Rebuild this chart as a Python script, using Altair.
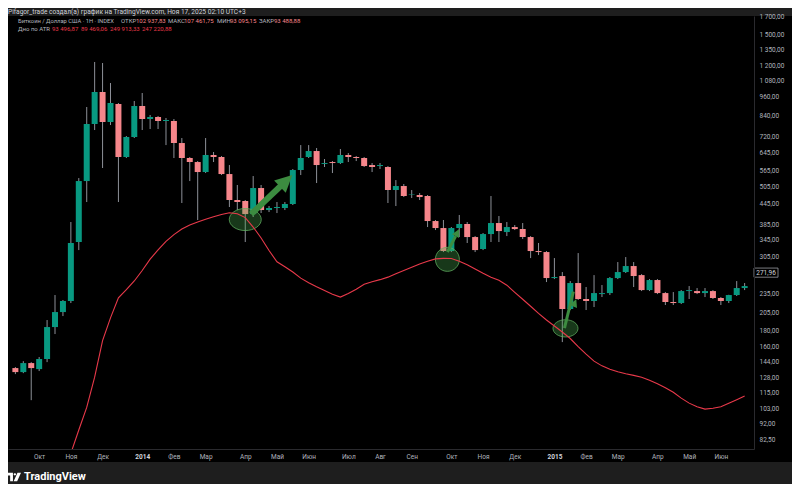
import altair as alt
import pandas as pd

# ---------------- data ----------------
FIRST_WEEK = "2013-09-16"   # weekly candles, Monday opens

opens = [137.2, 133.3, 142.2, 136.2, 146.4, 184.1, 205.0, 221.9, 338.7, 524.4,
         789.3, 992.9, 800.7, 911.1, 623.0, 719.0, 898.0, 818.1, 829.9, 806.5,
         806.5, 688.7, 618.5, 601.0, 559.4, 632.0, 623.0, 551.4, 457.7, 454.5,
         413.9, 498.8, 426.0, 432.2, 432.2, 444.8, 567.5, 623.0, 650.3, 592.5,
         601.0, 596.7, 632.0, 623.0, 618.5, 588.2, 584.0, 579.9, 491.7, 506.0,
         474.4, 474.4, 471.0, 393.7, 374.4, 317.5, 374.4, 385.4, 351.0, 322.1,
         358.6, 388.1, 363.8, 377.1, 371.7, 351.0, 317.5, 315.2, 261.6, 265.4,
         209.5, 252.4, 225.1, 221.9, 233.2, 234.9, 261.6, 273.1, 285.1, 267.2,
         240.0, 257.9, 234.9, 220.3, 218.7, 238.3, 238.3, 234.9, 238.3, 226.7,
         221.9, 231.6, 243.5]
highs = [138.2, 144.2, 143.2, 148.5, 193.6, 231.6, 223.5, 390.9, 535.8, 891.6,
         1231.2, 1222.4, 1059.1, 917.6, 724.2, 930.8, 985.8, 842.0, 835.9, 824.0,
         818.1, 713.9, 623.0, 605.3, 713.9, 645.7, 627.5, 588.2, 509.7, 457.7,
         543.6, 509.7, 438.4, 451.2, 451.2, 571.6, 678.7, 678.7, 664.5, 614.1,
         605.3, 659.8, 641.1, 627.5, 623.0, 596.7, 596.7, 584.0, 528.1, 513.4,
         491.7, 481.2, 474.4, 396.6, 396.6, 377.1, 411.1, 390.9, 353.5, 361.2,
         471.0, 408.1, 390.9, 382.5, 388.1, 353.5, 336.3, 317.5, 301.9, 273.1,
         256.0, 312.9, 245.3, 267.2, 248.8, 263.5, 293.4, 304.1, 293.4, 269.1,
         259.7, 259.7, 236.6, 236.6, 240.0, 247.0, 243.5, 243.5, 240.0, 228.3,
         232.0, 256.0, 252.4]
lows = [131.4, 132.3, 109.0, 134.3, 143.2, 175.1, 199.2, 218.7, 319.7, 451.2,
        756.0, 575.8, 783.6, 451.2, 618.5, 713.9, 756.0, 761.5, 761.5, 678.7,
        618.5, 448.0, 524.4, 396.6, 555.4, 601.0, 547.5, 435.3, 426.0, 338.7,
        405.2, 416.9, 419.9, 416.9, 426.0, 441.6, 547.5, 618.5, 517.0, 579.9,
        555.4, 592.5, 601.0, 605.3, 579.9, 559.4, 571.6, 448.0, 438.4, 467.6,
        464.3, 457.7, 377.1, 369.1, 315.2, 315.2, 351.0, 336.3, 315.2, 319.7,
        338.7, 338.7, 353.5, 369.1, 346.0, 301.9, 308.5, 254.2, 259.7, 165.3,
        208.0, 223.5, 208.0, 212.5, 228.3, 231.6, 259.7, 271.2, 245.3, 238.3,
        238.3, 233.2, 215.6, 215.6, 217.2, 225.1, 233.2, 228.3, 225.1, 215.6,
        218.7, 230.0, 240.0]
closes = [133.3, 142.2, 137.2, 146.4, 184.1, 205.0, 221.9, 336.3, 524.4, 789.3,
          992.9, 800.7, 917.6, 623.0, 719.0, 898.0, 818.1, 829.9, 806.5, 812.3,
          688.7, 618.5, 601.0, 559.4, 632.0, 623.0, 551.4, 457.7, 451.2, 413.9,
          498.8, 426.0, 432.2, 435.3, 444.8, 567.5, 618.5, 650.3, 588.2, 596.7,
          596.7, 632.0, 623.0, 618.5, 584.0, 579.9, 588.2, 491.7, 506.0, 471.0,
          476.1, 467.6, 393.7, 374.4, 317.5, 374.4, 385.4, 351.0, 319.7, 358.6,
          388.1, 366.4, 377.1, 371.7, 351.0, 317.5, 315.2, 261.6, 263.5, 209.5,
          252.4, 225.1, 221.9, 234.9, 234.9, 261.6, 273.1, 285.1, 265.4, 240.0,
          257.9, 234.9, 220.3, 218.7, 238.3, 240.0, 234.9, 238.3, 226.7, 221.9,
          231.6, 243.5, 247.0]

# "Дно по ATR" line, starting at candle #7
ATR_FIRST = 7
atr = [74.5, 88.0, 103.5, 128.5, 167.0, 196.7, 227.0, 240.6, 256.2, 276.1,
       299.5, 320.2, 340.4, 357.3, 371.7, 382.6, 390.9, 398.8, 406.1, 412.4,
       417.8, 414.8, 403.5, 377.1, 348.5, 318.6, 294.0, 283.7, 273.1, 261.4,
       252.8, 245.6, 239.2, 232.9, 228.3, 234.3, 241.5, 250.3, 254.9, 258.6,
       263.3, 269.8, 276.2, 282.7, 289.5, 294.9, 300.2, 301.3, 300.8, 295.1,
       287.9, 279.3, 270.8, 263.1, 257.3, 248.6, 236.1, 224.7, 213.7, 203.0,
       193.7, 185.5, 177.7, 169.6, 160.1, 151.7, 144.2, 139.4, 136.1, 133.6,
       131.7, 130.2, 128.5, 125.8, 122.7, 119.2, 115.3, 110.6, 106.7, 104.0,
       102.2, 102.9, 104.0, 106.7, 109.4, 112.3]

# price-axis labels
price_ticks = [82.5, 92, 103, 115, 128, 144, 160, 180, 205, 235, 305, 345, 385,
               445, 505, 565, 645, 720, 840, 960, 1080, 1200, 1350, 1500, 1700]
last_price = 271.96

# time-axis labels: candle numbers where a month starts
month_ticks = [3, 7, 11, 16, 20, 24, 29, 33, 37, 42, 46, 50, 55, 59, 63, 68, 72,
               76, 81, 85, 89]

# annotations (candle position, price)
ellipse_pos = [29.0, 54.5, 69.4]
ellipse_price = [398.0, 299.1, 182.4]
arrow_tail_pos = [29.74, 54.5, 69.27]
arrow_tail_price = [413.9, 315.2, 182.8]
arrow_base_pos = [33.67, 55.55, 70.39]
arrow_base_price = [511.5, 353.3, 237.3]
arrow_tip_pos = [34.94, 56.0, 70.76]
arrow_tip_price = [547.5, 371.7, 225.1]

# ---------------- helpers ----------------
GREEN = "#089981"
RED = "#f6868b"
WICK = "#8d9098"
LINE = "#e8394a"
ARROW = "#3c8c40"
AXIS_TXT = "#b2b5be"
FONT = "Roboto"

t0 = pd.Timestamp(FIRST_WEEK)


def when(pos):
    return t0 + pd.Timedelta(days=7 * pos)


def iso(pos):
    return when(pos).strftime("%Y-%m-%dT%H:%M:%SZ")


def ms(pos):
    return int(when(pos).value // 10**6)


n = len(opens)
candles = pd.DataFrame({
    "date": [iso(i) for i in range(n)],
    "open": opens, "high": highs, "low": lows, "close": closes,
})
atr_df = pd.DataFrame({
    "date": [iso(ATR_FIRST + i) for i in range(len(atr))],
    "price": atr,
})

xscale = alt.Scale(type="utc", domain=[ms(-0.3), ms(92.55)], nice=False)
yscale = alt.Scale(type="log", domain=[76.80, 1712.2], nice=False, zero=False)

month_expr = ("utcmonth(datum.value) == 0 ? utcFormat(datum.value, '%Y') : "
              "['Янв','Фев','Мар','Апр','Май','Июн','Июл','Авг','Сен','Окт','Ноя','Дек']"
              "[utcmonth(datum.value)]")
xaxis = alt.Axis(values=[ms(i) for i in month_ticks], labelExpr=month_expr,
                 title=None, grid=False, ticks=False, domain=True, zindex=2,
                 domainColor="#2a2a2e", labelFont=FONT, labelFontSize=6.5,
                 labelPadding=4, labelFlush=False, labelOverlap=False,
                 labelColor={"condition": {"test": "utcmonth(datum.value) == 0",
                                           "value": "#d1d4dc"}, "value": AXIS_TXT},
                 labelFontWeight={"condition": {"test": "utcmonth(datum.value) == 0",
                                                "value": "bold"}, "value": "normal"})
yaxis = alt.Axis(orient="right", values=price_ticks,
                 labelExpr="replace(replace(format(datum.value, ',.2f'), ',', ' '), '.', ',')",
                 title=None, grid=False, ticks=False, domain=True, zindex=2,
                 domainColor="#2a2a2e", labelFont=FONT, labelFontSize=6.5,
                 labelColor=AXIS_TXT, labelPadding=5, labelOverlap=False,
                 labelFlush=False)

X = alt.X("date:T", scale=xscale, axis=xaxis)


def Y(field):
    return alt.Y(f"{field}:Q", scale=yscale, axis=yaxis)


one = pd.DataFrame({"k": [0]})


def label(text, x, y, color, size=6.5, weight="normal", align="left"):
    return alt.Chart(pd.DataFrame({"t": [text]})).mark_text(
        align=align, baseline="middle", fontSize=size, fontWeight=weight,
        color=color, font=FONT
    ).encode(x=alt.value(x), y=alt.value(y), text="t:N")


# ---------------- layers ----------------
black_bg = alt.Chart(one).mark_rect(color="#000000").encode(
    x=alt.value(-20), x2=alt.value(800), y=alt.value(0), y2=alt.value(446))

wicks = alt.Chart(candles).mark_rule(color=WICK, strokeWidth=1).encode(
    x=X, y=Y("low"), y2="high:Q")

bodies = alt.Chart(candles).mark_bar(size=6).encode(
    x=X, y=Y("open"), y2="close:Q",
    color=alt.condition("datum.close >= datum.open", alt.value(GREEN), alt.value(RED)))

atr_line = alt.Chart(atr_df).mark_line(color=LINE, strokeWidth=1.1, clip=True).encode(
    x=X, y=Y("price"))

ELLIPSE = "M-1,0A1,0.69,0,1,1,1,0A1,0.69,0,1,1,-1,0Z"
CIRCLE = "M-1,0A1,1,0,1,1,1,0A1,1,0,1,1,-1,0Z"
ell_style = dict(filled=True, fill="#4caf50", fillOpacity=0.32, stroke="#62b262",
                 strokeOpacity=0.75, strokeWidth=1)
ell_widths = [32, 24, 25]
ell_shapes = [ELLIPSE, CIRCLE, ELLIPSE]
ellipses = []
for k in range(3):
    d = pd.DataFrame({"date": [iso(ellipse_pos[k])], "price": [ellipse_price[k]]})
    ellipses.append(alt.Chart(d).mark_point(shape=ell_shapes[k], size=ell_widths[k] ** 2,
                                            **ell_style).encode(x=X, y=Y("price")))

ARROWHEAD = "M0,0L-1,2L1,2Z"
shaft_w = [6, 3, 3]
head_size = [289, 64, 64]
head_angle = [47, 28, 22]
arrows = []
for k in range(3):
    d = pd.DataFrame({"date": [iso(arrow_tail_pos[k])], "price": [arrow_tail_price[k]],
                      "date2": [iso(arrow_base_pos[k])], "price2": [arrow_base_price[k]]})
    arrows.append(alt.Chart(d).mark_rule(color=ARROW, strokeWidth=shaft_w[k]).encode(
        x=X, y=Y("price"), x2="date2:T", y2="price2:Q"))
    h = pd.DataFrame({"date": [iso(arrow_tip_pos[k])], "price": [arrow_tip_price[k]]})
    arrows.append(alt.Chart(h).mark_point(shape=ARROWHEAD, size=head_size[k], filled=True,
                                          color=ARROW, opacity=1, angle=head_angle[k]).encode(
        x=X, y=Y("price")))

lp = pd.DataFrame({"price": [last_price], "t": ["271,96"]})
last_box = alt.Chart(lp).mark_point(shape="M-1,-0.38L1,-0.38L1,0.38L-1,0.38Z", size=576,
                                    filled=True, fill="#000000", stroke="#9a9ca3",
                                    strokeWidth=0.8, opacity=1).encode(
    x=alt.value(758), y=alt.Y("price:Q", scale=yscale, axis=yaxis))
last_txt = alt.Chart(lp).mark_text(fontSize=6.5, font=FONT, color="#d1d4dc",
                                   align="center", baseline="middle").encode(
    x=alt.value(758), y=alt.Y("price:Q", scale=yscale, axis=yaxis), text="t:N")

texts = [
    label("Pifagor_trade создал(а) график на TradingView.com, Ноя 17, 2025 02:10 UTC+3",
          0, -4, "#d1d4dc", size=6.6),
    label("Биткоин / Доллар США · 1Н · INDEX", 10, 5, AXIS_TXT, size=5.8),
    label("ОТКР", 113, 5, AXIS_TXT, size=6),
    label("102 937,83", 128, 5, RED, size=6),
    label("МАКС", 160, 5, AXIS_TXT, size=6),
    label("107 461,75", 176, 5, RED, size=6),
    label("МИН", 209, 5, AXIS_TXT, size=6),
    label("93 095,15", 222, 5, RED, size=6),
    label("ЗАКР", 251, 5, AXIS_TXT, size=6),
    label("93 488,88", 266, 5, RED, size=6),
    label("Дно по ATR", 10, 13, AXIS_TXT, size=6),
    label("93 496,87", 44, 13, LINE, size=6),
    label("89 469,06", 73, 13, LINE, size=6),
    label("249 913,33", 102, 13, LINE, size=6),
    label("247 220,88", 134, 13, LINE, size=6),
    label("TradingView", 16, 461, "#ffffff", size=11, weight="bold"),
]

LOGO = ("M-1,-0.6L-0.15,-0.6L-0.15,0.6L-0.55,0.6L-0.55,-0.2L-1,-0.2Z"
        "M-0.05,-0.38A0.17,0.17,0,1,1,0.29,-0.38A0.17,0.17,0,1,1,-0.05,-0.38Z"
        "M0.5,-0.6L1,-0.6L0.45,0.6L-0.05,0.6Z")
logo = alt.Chart(one).mark_point(shape=LOGO, size=196, filled=True, color="#ffffff",
                                 opacity=1).encode(x=alt.value(6), y=alt.value(461))

chart = alt.layer(
    black_bg, wicks, bodies, *ellipses, atr_line, *arrows, last_box, last_txt,
    *texts, logo
).properties(
    width=746, height=433, autosize="none",
    padding={"left": 0, "top": 8, "right": 38, "bottom": 35},
).configure(background="#1e1e1e").configure_view(stroke=None)

chart.save("out.html", embed_options={"renderer": "svg", "actions": False})
